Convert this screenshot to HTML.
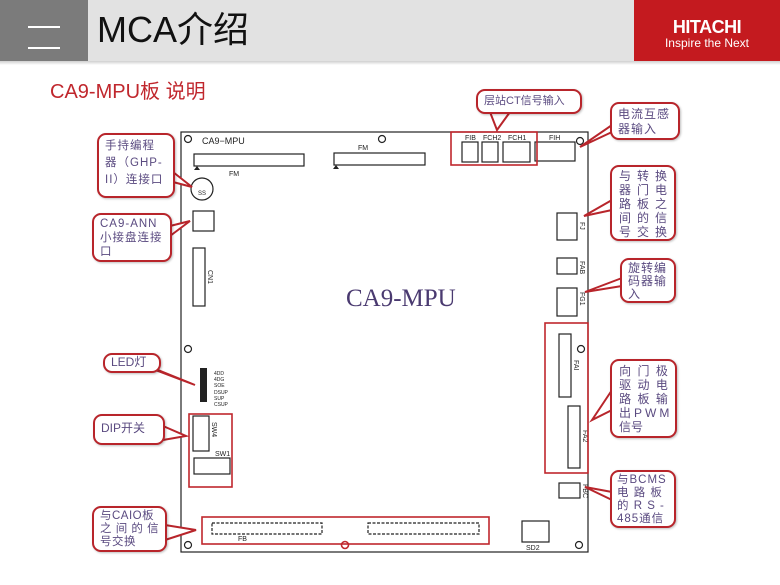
<!DOCTYPE html>
<html><head><meta charset="utf-8"><style>
body{margin:0;width:780px;height:585px;position:relative;overflow:hidden;background:#fff;font-family:"Liberation Sans","Noto Sans CJK SC",sans-serif}
.a{position:absolute}
.c{position:absolute;border:2px solid #b8252b;border-radius:9px;background:#fff;box-sizing:border-box;color:#5a4a80;font-size:12px;line-height:15px;padding:3px 6px;letter-spacing:1px;box-shadow:1px 1px 2px rgba(0,0,0,.25);white-space:nowrap;overflow:hidden}
.g{display:grid;grid-template-columns:1fr 1fr 1fr;text-align:center;letter-spacing:0;line-height:14px;font-size:12px}
</style></head><body>
<div class="a" style="left:0;top:0;width:88px;height:61px;background:#7b7b7b"></div>
<div class="a" style="left:28px;top:26px;width:32px;height:2px;background:#fff"></div>
<div class="a" style="left:28px;top:47px;width:32px;height:2px;background:#fff"></div>
<div class="a" style="left:88px;top:0;width:546px;height:61px;background:#e2e2e2"></div>
<div class="a" style="left:0;top:61px;width:780px;height:4px;background:linear-gradient(#cfcfcf,#fff)"></div>
<div class="a" style="left:97px;top:9px;font-size:36px;color:#111;line-height:42px">MCA介绍</div>
<div class="a" style="left:634px;top:0;width:146px;height:61px;background:#c41a1f"></div>
<div class="a" style="left:634px;top:17px;width:146px;text-align:center;color:#fff;font-weight:bold;font-size:18px;letter-spacing:-0.5px">HITACHI</div>
<div class="a" style="left:634px;top:36px;width:146px;text-align:center;color:#fff;font-size:12px">Inspire the Next</div>
<div class="a" style="left:50px;top:75px;font-size:20px;color:#c0272d">CA9-MPU板 说明</div>

<svg class="a" style="left:0;top:0" width="780" height="585" font-family="Liberation Sans" >
<g fill="none" stroke="#222" stroke-width="1.2">
<rect x="181" y="132" width="407" height="420"/>
<rect x="194" y="154" width="110" height="12"/>
<rect x="334" y="153" width="91" height="12"/>
<rect x="462" y="142" width="16" height="20"/><rect x="482" y="142" width="16" height="20"/><rect x="503" y="142" width="27" height="20"/><rect x="535" y="142" width="40" height="19"/>
<rect x="557" y="213" width="20" height="27"/><rect x="557" y="258" width="20" height="16"/><rect x="557" y="288" width="20" height="28"/>
<rect x="559" y="334" width="12" height="63"/><rect x="568" y="406" width="12" height="62"/>
<rect x="559" y="483" width="21" height="15"/><rect x="522" y="521" width="27" height="21"/>
<circle cx="202" cy="189" r="11"/>
<rect x="193" y="211" width="21" height="20"/><rect x="193" y="248" width="12" height="58"/>
<rect x="193" y="416" width="16" height="35"/><rect x="194" y="458" width="36" height="16"/>
<rect x="212" y="523" width="110" height="11" stroke-dasharray="3,1.5"/>
<rect x="368" y="523" width="111" height="11" stroke-dasharray="3,1.5"/>
<circle cx="188" cy="139" r="3.5"/><circle cx="382" cy="139" r="3.5"/><circle cx="580" cy="141" r="3.5"/><circle cx="188" cy="349" r="3.5"/><circle cx="581" cy="349" r="3.5"/><circle cx="188" cy="545" r="3.5"/><circle cx="579" cy="545" r="3.5"/>
</g>
<g fill="#222"><rect x="200" y="368" width="7" height="34"/><path d="M197 166l3 4h-6z M336 165l3 4h-6z"/></g>
<g font-size="7" fill="#222">
<text x="202" y="144" font-size="9">CA9−MPU</text><text x="229" y="176">FM</text><text x="358" y="150">FM</text>
<text x="465" y="140">FIB</text><text x="483" y="140">FCH2</text><text x="508" y="140">FCH1</text><text x="549" y="140">FIH</text>
<text x="198" y="195" font-size="6">SS</text>
<text transform="translate(208,270) rotate(90)">CN1</text>
<text transform="translate(580,222) rotate(90)">FJ</text>
<text transform="translate(580,261) rotate(90)">FAB</text>
<text transform="translate(580,292) rotate(90)">FG1</text>
<text transform="translate(574,360) rotate(90)">FAI</text>
<text transform="translate(583,430) rotate(90)">FA2</text>
<text transform="translate(583,484) rotate(90)">FBC</text>
<text transform="translate(212,422) rotate(90)">SW4</text>
<text x="238" y="541">FB</text><text x="526" y="550">SD2</text><text x="215" y="456">SW1</text>
<text x="214" y="375" font-size="5">4DD</text><text x="214" y="381" font-size="5">4DG</text><text x="214" y="387" font-size="5">SOE</text><text x="214" y="394" font-size="5">DSUP</text><text x="214" y="400" font-size="5">SUP</text><text x="214" y="406" font-size="5">CSUP</text>
</g>
<text x="346" y="306" font-family="Liberation Serif" font-size="25" fill="#4a3a70">CA9-MPU</text>
<g fill="none" stroke="#c0272d" stroke-width="1.6">
<rect x="451" y="132" width="86" height="33"/>
<rect x="545" y="323" width="43" height="150"/>
<rect x="189" y="414" width="43" height="73"/>
<rect x="202" y="517" width="287" height="27"/>
<circle cx="345" cy="545" r="3.5"/>
</g>
<g fill="#fff" stroke="#b8252b" stroke-width="2">
<path d="M490 112 L497 130 L510 112"/>
<path d="M612 125 L580 147 L612 132"/>
<path d="M612 200 L584 216 L612 210"/>
<path d="M622 278 L585 292 L622 286"/>
<path d="M612 390 L592 420 L612 410"/>
<path d="M612 492 L585 487 L612 500"/>
<path d="M173 172 L192 187 L173 182"/>
<path d="M170 226 L190 221 L170 236"/>
<path d="M150 368 L195 385 L158 370"/>
<path d="M163 426 L186 436 L163 440"/>
<path d="M165 525 L196 530 L165 540"/>
</g>
</svg>

<div class="c" style="left:476px;top:89px;width:106px;height:25px;font-size:11px;letter-spacing:0">层站CT信号输入</div>
<div class="c" style="left:610px;top:102px;width:70px;height:38px">电流互感<br>器输入</div>
<div class="c g" style="left:610px;top:165px;width:66px;height:76px;padding:2px 4px"><span>与</span><span>转</span><span>换</span><span>器</span><span>门</span><span>电</span><span>路</span><span>板</span><span>之</span><span>间</span><span>的</span><span>信</span><span>号</span><span>交</span><span>换</span></div>
<div class="c" style="left:620px;top:258px;width:56px;height:45px;line-height:13px;padding:2px 6px">旋转编<br>码器输<br>入</div>
<div class="c g" style="left:610px;top:359px;width:67px;height:79px;padding:3px 4px"><span>向</span><span>门</span><span>极</span><span>驱</span><span>动</span><span>电</span><span>路</span><span>板</span><span>输</span><span style="grid-column:1/4;text-align:left;padding-left:3px;letter-spacing:3px">出PWM</span><span style="grid-column:1/4;text-align:left;padding-left:3px">信号</span></div>
<div class="c" style="left:610px;top:470px;width:66px;height:58px;line-height:13px;padding:2px 5px;font-size:11.5px">与BCMS<br>电 路 板<br>的 R S -<br>485通信</div>
<div class="c" style="left:97px;top:133px;width:78px;height:65px;font-size:11.5px;line-height:17px;padding:3px 6px">手持编程<br>器（GHP-<br>II）连接口</div>
<div class="c" style="left:92px;top:213px;width:80px;height:49px;line-height:14px;padding:2px 6px;font-size:11.5px">CA9-ANN<br>小接盘连接<br>口</div>
<div class="c" style="left:103px;top:353px;width:58px;height:20px;line-height:13px;padding:1px 6px;letter-spacing:0">LED灯</div>
<div class="c" style="left:93px;top:414px;width:72px;height:31px;line-height:22px;padding:1px 6px;letter-spacing:0">DIP开关</div>
<div class="c" style="left:92px;top:506px;width:75px;height:46px;line-height:13px;padding:2px 6px;font-size:11.5px;letter-spacing:0.5px">与CAIO板<br>之 间 的 信<br>号交换</div>
</body></html>
